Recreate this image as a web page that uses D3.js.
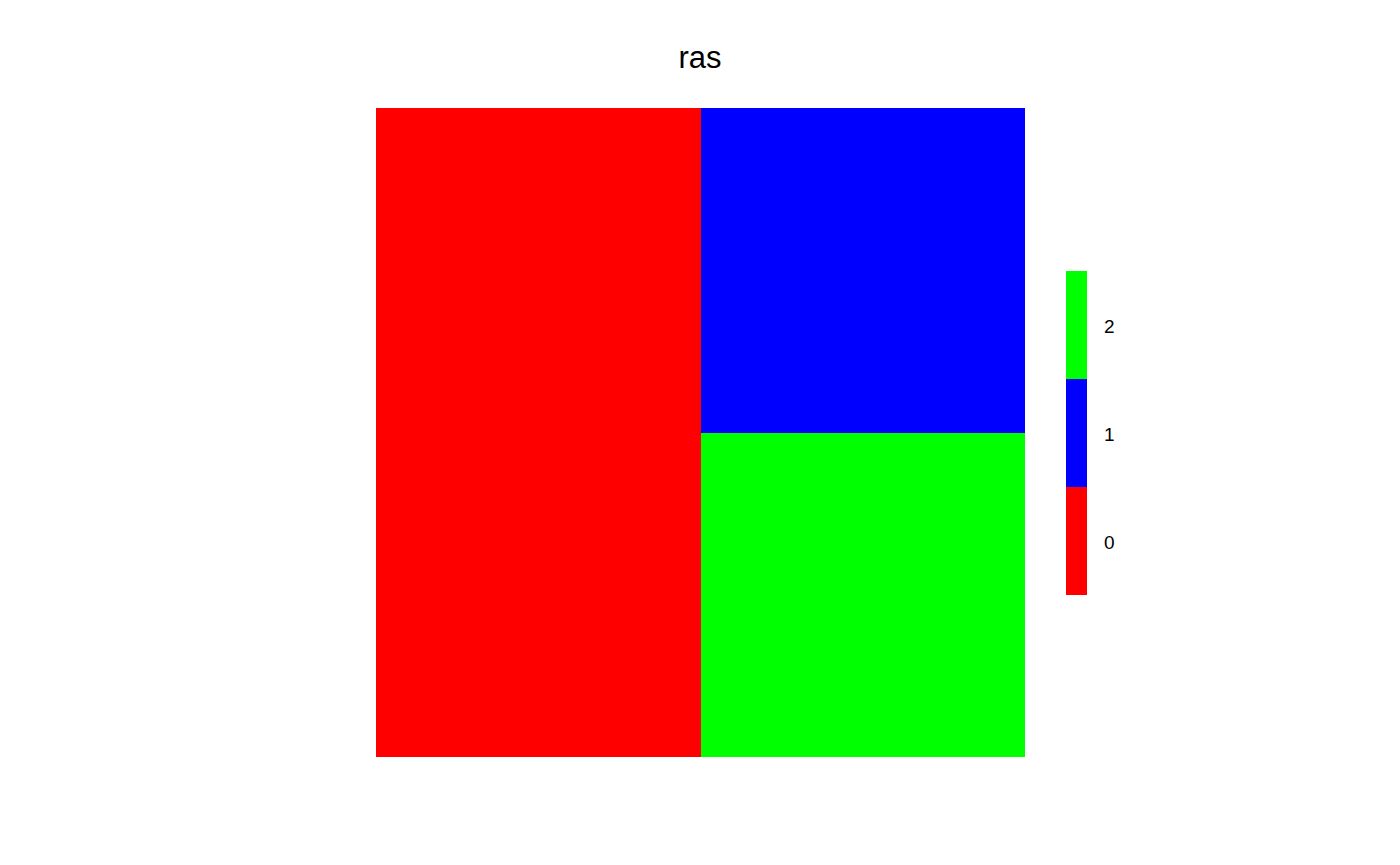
<!DOCTYPE html>
<html><head><meta charset="utf-8">
<script src="https://cdn.jsdelivr.net/npm/d3@7"></script>
<style>body{margin:0;background:#fff}svg{display:block}</style>
</head><body>
<script>
const title = "ras";
const rowValues = [[0, 1], [0, 2]]; // top row, bottom row
const legendValues = [0, 1, 2];
const legendColors = ["#ff0000", "#0000ff", "#00ff00"];

const W = 1400, H = 865;
const svg = d3.select("body").append("svg").attr("width", W).attr("height", H);
const color = d3.scaleOrdinal().domain(legendValues).range(legendColors);
const nRows = rowValues.length, nCols = rowValues[0].length;
const x = d3.scaleLinear().domain([0, nCols]).range([376, 1025]);
const y = d3.scaleLinear().domain([0, nRows]).range([108, 757]);

const cells = [];
rowValues.forEach((row, r) => row.forEach((v, c) => cells.push({r, c, v})));
svg.append("g").selectAll("rect").data(cells).join("rect")
  .attr("x", d => x(d.c)).attr("y", d => y(d.r))
  .attr("width", d => x(d.c + 1) - x(d.c)).attr("height", d => y(d.r + 1) - y(d.r))
  .attr("fill", d => color(d.v)).attr("shape-rendering", "crispEdges");

svg.append("text").attr("x", 700).attr("y", 68).attr("text-anchor", "middle")
  .attr("font-family", "Liberation Sans, Arial, sans-serif").attr("font-size", 31).text(title);

const ly = d3.scaleLinear().domain([-0.5, legendValues.length - 0.5]).range([595, 271]);
const lg = svg.append("g");
lg.selectAll("rect").data(legendValues).join("rect")
  .attr("x", 1066).attr("width", 21)
  .attr("y", d => ly(d + 0.5)).attr("height", d => ly(d - 0.5) - ly(d + 0.5))
  .attr("fill", d => color(d)).attr("shape-rendering", "crispEdges");
lg.selectAll("text").data(legendValues).join("text")
  .attr("x", 1104).attr("y", d => ly(d) + 1).attr("dy", "0.35em")
  .attr("font-family", "Liberation Sans, Arial, sans-serif").attr("font-size", 19)
  .text(d => d);
</script>
</body></html>
